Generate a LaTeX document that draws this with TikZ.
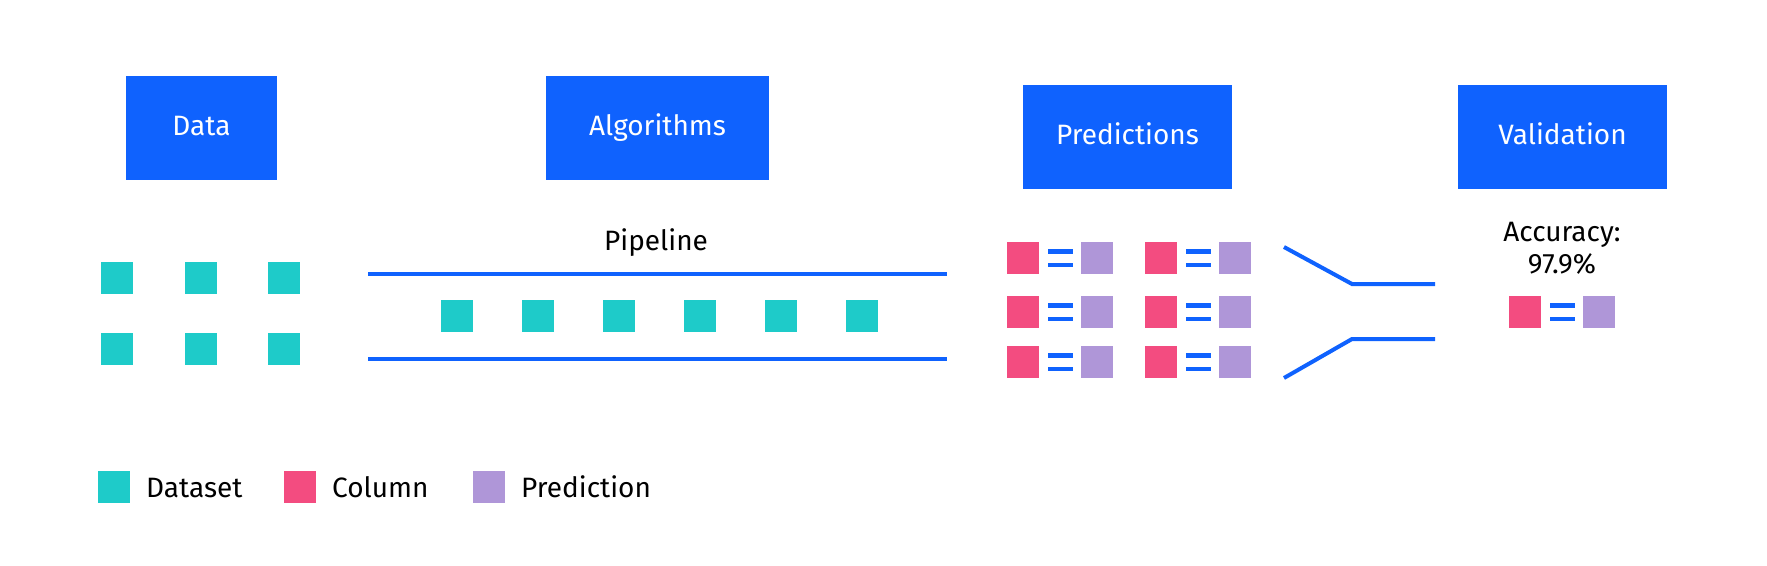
\documentclass[tikz,border=0pt]{standalone}
\usepackage{fontspec}
\setmainfont{Fira Sans}
\definecolor{ibmblue}{HTML}{0F62FE}
\definecolor{dteal}{HTML}{1ECBC9}
\definecolor{cpink}{HTML}{F34C80}
\definecolor{ppurple}{HTML}{AF96D8}
\begin{document}
\begin{tikzpicture}[x=1pt,y=-1pt,
  hdr/.style={fill=ibmblue, text=white, minimum width=#1, minimum height=104pt, inner sep=0pt, text height=20pt, text depth=6pt, font=\fontsize{28}{34}\selectfont},
  sq/.style={fill=#1, minimum size=32pt, inner sep=0pt},
  lbl/.style={font=\fontsize{28}{34}\selectfont, inner sep=0pt},
  bline/.style={draw=ibmblue, line width=4pt},
  eqn/.style={fill=white, minimum width=25pt, minimum height=18pt, inner sep=0pt,
    path picture={
      \fill[ibmblue] (path picture bounding box.north west) rectangle ([yshift=-4.5pt]path picture bounding box.north east);
      \fill[ibmblue] (path picture bounding box.south west) rectangle ([yshift=4.5pt]path picture bounding box.south east);
    }}]
\useasboundingbox (0,0) rectangle (1767,565);

% header boxes
\node[hdr=151pt] (data) at (201.5,128) {Data};
\node[hdr=223pt] (algo) at (657.5,128) {Algorithms};
\node[hdr=209pt] (pred) at (1127.5,137) {Predictions};
\node[hdr=209pt] (valid) at (1562.5,137) {Validation};

% data squares
\foreach \i/\x in {1/117,2/201,3/284}
  \foreach \j/\y in {1/278,2/349}
    \node[sq=dteal] (d\i\j) at (\x,\y) {};

% pipeline
\node[lbl, anchor=base] (pipe) at (656,250) {Pipeline};
\coordinate (ptl) at (368,274);
\coordinate (ptr) at (947,274);
\coordinate (pbl) at (368,359);
\coordinate (pbr) at (947,359);
\draw[bline] (ptl) -- (ptr);
\draw[bline] (pbl) -- (pbr);
\foreach \i/\x in {1/457,2/538,3/619,4/700,5/781,6/862}
  \node[sq=dteal] (ps\i) at (\x,316) {};

% predictions grid
\foreach \r/\y in {a/258,b/312,c/362}
  \foreach \c/\xp/\xe/\xq in {1/1023/1060.5/1097,2/1160.5/1198.5/1235}{
    \node[sq=cpink] (pc\c\r) at (\xp,\y) {};
    \node[eqn] (pe\c\r) at (\xe,\y) {};
    \node[sq=ppurple] (pp\c\r) at (\xq,\y) {};
  }

% funnel
\coordinate (f1a) at (1284,247);
\coordinate (f1b) at (1352,284);
\coordinate (f1c) at (1435,284);
\coordinate (f2a) at (1284,378);
\coordinate (f2b) at (1352,339);
\coordinate (f2c) at (1435,339);
\draw[bline] (f1a) -- (f1b) -- (f1c);
\draw[bline] (f2a) -- (f2b) -- (f2c);

% validation
\node[lbl, anchor=base] (acc1) at (1562,241) {Accuracy:};
\node[lbl, anchor=base] (acc2) at (1562,273) {97.9\%};
\node[sq=cpink] (vc) at (1525,312) {};
\node[eqn] (ve) at (1562.5,312) {};
\node[sq=ppurple] (vp) at (1599,312) {};

% legend
\node[sq=dteal] (lg1) at (114,487) {};
\node[lbl, anchor=base west] (lt1) at (146,497) {Dataset};
\node[sq=cpink] (lg2) at (300,487) {};
\node[lbl, anchor=base west] (lt2) at (332,497) {Column};
\node[sq=ppurple] (lg3) at (489,487) {};
\node[lbl, anchor=base west] (lt3) at (521,497) {Prediction};
\end{tikzpicture}
\end{document}
